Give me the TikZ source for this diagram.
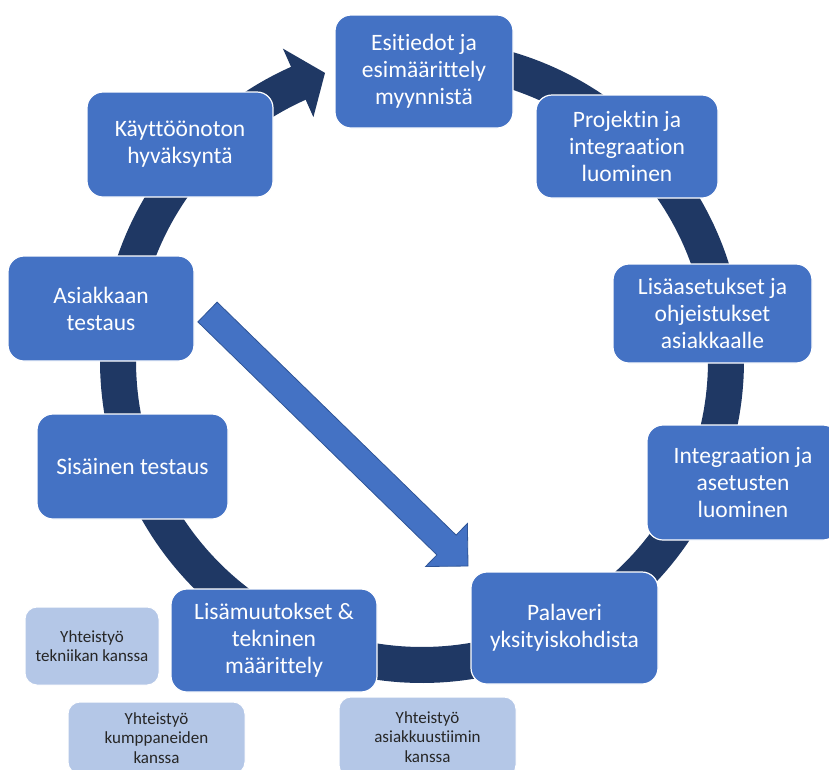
\documentclass[tikz,border=0pt]{standalone}
\usepackage{fontspec}
\setmainfont{Carlito}[RawFeature={-liga;-clig;-calt}]
\definecolor{stepblue}{HTML}{4472C4}
\definecolor{ringnavy}{HTML}{1F3864}
\definecolor{notefill}{HTML}{B4C7E7}
\definecolor{arrowedge}{HTML}{2F5597}
\begin{document}
\begin{tikzpicture}[x=1pt,y=-1pt,
  stepbox/.style={draw=white, line width=1.2pt, fill=stepblue, rounded corners=16pt,
    text=white, font=\fontsize{23.5}{27}\selectfont, align=center, inner sep=0pt},
  notebox/.style={draw=white, line width=1pt, fill=notefill, rounded corners=12pt,
    text=black!85, font=\fontsize{17}{19.5}\selectfont, align=center, inner sep=0pt},
  ring/.style={draw=ringnavy, line width=36pt},
  blockarrow/.style={draw=arrowedge, line width=0.8pt, fill=stepblue, line join=miter}]
\useasboundingbox (0,0) rectangle (829,769);
\clip (0,0) rectangle (829,769);

% cycle ring (centre 422,361; mid radius 304), running clockwise
\coordinate (hub) at (422,361);
\draw[ring] plot[domain=-88:246.5, samples=240] ({422+304*cos(\x)}, {361+304*sin(\x)});
% ring arrowhead pointing at the first step
\coordinate (headout) at (282.9,48.6);
\coordinate (headin) at (313.4,117.1);
\coordinate (headtip) at (325.0,72.9);
\fill[ringnavy] (headout) -- (headtip) -- (headin) -- cycle;

% diagonal block arrow from customer testing towards the meeting step
\coordinate (da1) at (217.1,302.1);
\coordinate (da2) at (456.1,535.1);
\coordinate (da3) at (467.4,523.5);
\coordinate (datip) at (468.0,566.0);
\coordinate (da5) at (425.6,566.5);
\coordinate (da6) at (436.9,554.9);
\coordinate (da7) at (197.9,321.9);
\draw[blockarrow] (da1) -- (da2) -- (da3) -- (datip) -- (da5) -- (da6) -- (da7) -- cycle;

% process steps
\node[stepbox, minimum width=178pt, minimum height=113pt] (pre) at (424,71.5)
  {Esitiedot ja\\esimäärittely\\myynnistä};
\node[stepbox, minimum width=182pt, minimum height=103pt] (proj) at (627,146.5)
  {Projektin ja\\integraation\\luominen};
\node[stepbox, minimum width=199pt, minimum height=99pt] (lisa) at (712.5,313.5)
  {Lisäasetukset ja\\ohjeistukset\\asiakkaalle};
\node[stepbox, minimum width=192pt, minimum height=115pt] (integ) at (743,482.5)
  {Integraation ja\\asetusten\\luominen};
\node[stepbox, minimum width=187pt, minimum height=112pt] (pal) at (564.5,628)
  {Palaveri\\yksityiskohdista};
\node[stepbox, minimum width=206pt, minimum height=103pt] (muut) at (274,640.5)
  {Lisämuutokset \&\\tekninen\\määrittely};
\node[stepbox, minimum width=191pt, minimum height=105pt] (sis) at (132.5,466.5)
  {Sisäinen testaus};
\node[stepbox, minimum width=186pt, minimum height=105pt] (asi) at (101,308.5)
  {Asiakkaan\\testaus};
\node[stepbox, minimum width=186pt, minimum height=105pt] (kay) at (180,144.5)
  {Käyttöönoton\\hyväksyntä};

% collaboration notes
\node[notebox, minimum width=134pt, minimum height=78pt] (tek) at (92,646)
  {Yhteistyö\\tekniikan kanssa};
\node[notebox, minimum width=177pt, minimum height=72pt] (kump) at (156.5,738)
  {Yhteistyö\\kumppaneiden\\kanssa};
\node[notebox, minimum width=177pt, minimum height=80pt] (asiak) at (427.5,737)
  {Yhteistyö\\asiakkuustiimin\\kanssa};
\end{tikzpicture}
\end{document}
